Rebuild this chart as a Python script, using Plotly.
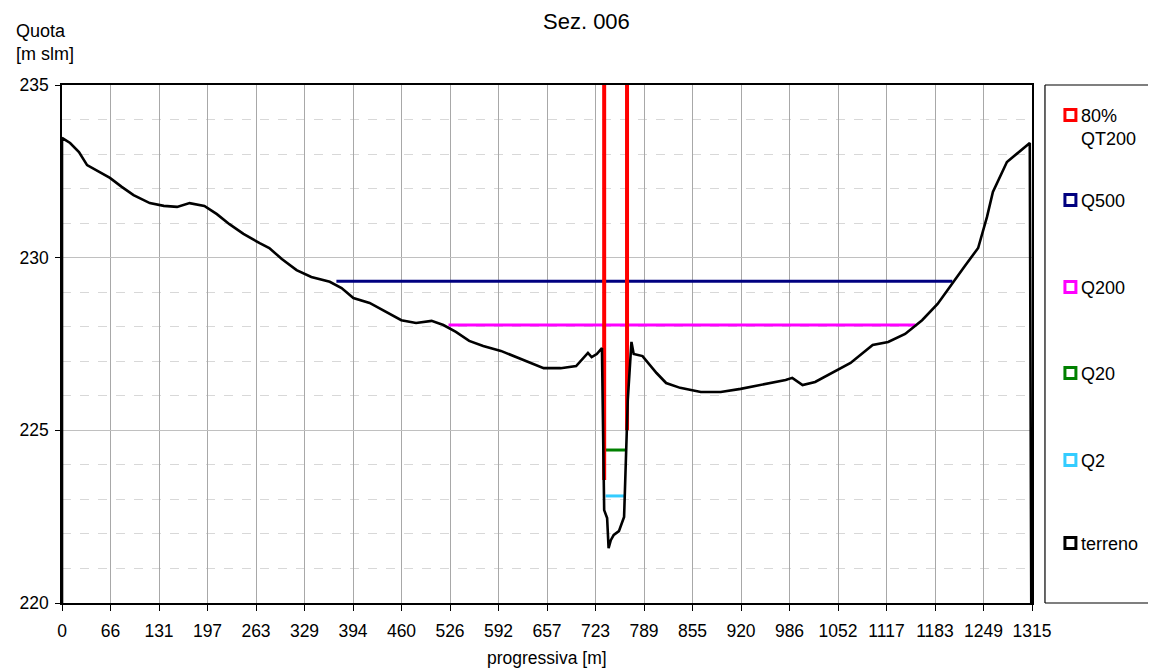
import plotly.graph_objects as go

# ---- data ----
terrain_x = [0, 0, 11, 23, 34, 50, 65, 81, 97, 119, 138, 156, 173, 193, 210, 227, 246, 268, 281, 298,
             318, 338, 363, 379, 395, 417, 440, 460, 480, 501, 517, 534, 552, 571, 595, 616, 636, 653,
             676, 697, 713, 718, 725, 732, 735, 739, 741, 744, 748, 755, 762, 767, 772, 775, 787, 795,
             806, 819, 838, 866, 893, 920, 947, 981, 990, 1004, 1021, 1042, 1069, 1099, 1120, 1143,
             1166, 1187, 1208, 1224, 1242, 1254, 1262, 1272, 1281, 1312, 1314]
terrain_y = [220.0, 233.47, 233.32, 233.06, 232.68, 232.48, 232.31, 232.05, 231.81, 231.58, 231.50,
             231.47, 231.58, 231.50, 231.26, 230.97, 230.69, 230.42, 230.28, 229.96, 229.64, 229.44,
             229.30, 229.12, 228.83, 228.69, 228.43, 228.19, 228.11, 228.17, 228.05, 227.85, 227.59,
             227.44, 227.30, 227.12, 226.95, 226.80, 226.80, 226.86, 227.24, 227.12, 227.21, 227.38,
             222.69, 222.46, 221.59, 221.82, 221.97, 222.08, 222.49, 225.88, 227.56, 227.21, 227.15,
             226.95, 226.66, 226.37, 226.23, 226.11, 226.11, 226.20, 226.31, 226.46, 226.52, 226.31,
             226.40, 226.63, 226.95, 227.47, 227.56, 227.79, 228.19, 228.66, 229.30, 229.76, 230.28,
             231.18, 231.90, 232.36, 232.77, 233.32, 220.0]

q500_x = [372, 1207]
q500_level = 229.32
q200_x = [524, 1157]
q200_level = 228.05
q20_x = [736, 764]
q20_level = 224.43
q2_x = [737, 763]
q2_level = 223.10
qt80_x = [735, 766]
qt80_top = 235.0
qt80_bottom = [223.56, 225.0]

tick_vals = [0, 65.75, 131.5, 197.25, 263, 328.75, 394.5, 460.25, 526, 591.75, 657.5, 723.25, 789,
             854.75, 920.5, 986.25, 1052, 1117.75, 1183.5, 1249.25, 1315]
tick_text = ["0", "66", "131", "197", "263", "329", "394", "460", "526", "592", "657", "723", "789",
             "855", "920", "986", "1052", "1117", "1183", "1249", "1315"]

legend_names = ["80%<br>QT200", "Q500", "Q200", "Q20", "Q2", "terreno"]
legend_colors = ["#FF0000", "#000080", "#FF00FF", "#008000", "#33CCFF", "#000000"]

# ---- figure ----
OFF = 8  # page body margin
W, H = 1156 - OFF, 671 - OFF
ML, MT = 60 - OFF, 85 - OFF
PW, PH = 972, 518
MR = W - ML - PW
MB = H - MT - PH


def px(x):
    return (x - OFF - ML) / PW


def py(y):
    return (MT + OFF + PH - y) / PH


FONT = "Liberation Sans, Arial, sans-serif"

fig = go.Figure()

fig.add_trace(go.Scatter(x=q500_x, y=[q500_level] * 2, mode="lines",
                         line=dict(color=legend_colors[1], width=3), name="Q500"))
fig.add_trace(go.Scatter(x=q200_x, y=[q200_level] * 2, mode="lines",
                         line=dict(color=legend_colors[2], width=3), name="Q200"))
fig.add_trace(go.Scatter(x=q20_x, y=[q20_level] * 2, mode="lines",
                         line=dict(color=legend_colors[3], width=3), name="Q20"))
fig.add_trace(go.Scatter(x=q2_x, y=[q2_level] * 2, mode="lines",
                         line=dict(color=legend_colors[4], width=3), name="Q2"))
for xv, yb in zip(qt80_x, qt80_bottom):
    fig.add_trace(go.Scatter(x=[xv, xv], y=[qt80_top, yb], mode="lines",
                             line=dict(color=legend_colors[0], width=4), name="80% QT200"))
fig.add_trace(go.Scatter(x=terrain_x, y=terrain_y, mode="lines",
                         line=dict(color="black", width=2.6), name="terreno"))

# ---- manual legend (box open to the right edge) ----
box_line = dict(color="black", width=1.2)
shapes = [
    dict(type="line", xref="paper", yref="paper", x0=px(1045), x1=px(1045), y0=py(603), y1=py(85), line=box_line),
    dict(type="line", xref="paper", yref="paper", x0=px(1045), x1=px(1200), y0=py(85), y1=py(85), line=box_line),
    dict(type="line", xref="paper", yref="paper", x0=px(1045), x1=px(1200), y0=py(603), y1=py(603), line=box_line),
]
annotations = []
legend_centers = [115, 200, 287, 373, 460, 543]
for name, col, cy in zip(legend_names, legend_colors, legend_centers):
    shapes.append(dict(type="rect", xref="paper", yref="paper",
                       x0=px(1065), x1=px(1076), y0=py(cy + 5.5), y1=py(cy - 5.5),
                       line=dict(color=col, width=3), fillcolor="white"))
    annotations.append(dict(text=name, xref="paper", yref="paper", x=px(1079),
                            y=py(cy - 11), xanchor="left", yanchor="top", showarrow=False,
                            align="left", font=dict(family=FONT, size=18, color="black")))

annotations.append(dict(text="Sez. 006", xref="paper", yref="paper", x=px(586), y=py(22),
                        xanchor="center", yanchor="middle", showarrow=False,
                        font=dict(family=FONT, size=22, color="black")))
annotations.append(dict(text="Quota<br>[m slm]", xref="paper", yref="paper", x=px(12), y=py(19),
                        xanchor="left", yanchor="top", showarrow=False, align="left",
                        font=dict(family=FONT, size=18, color="black")))
annotations.append(dict(text="progressiva [m]", xref="paper", yref="paper", x=px(546), y=py(658),
                        xanchor="center", yanchor="middle", showarrow=False,
                        font=dict(family=FONT, size=17.5, color="black")))

fig.update_layout(
    width=W, height=H,
    margin=dict(l=ML, r=MR, t=MT, b=MB),
    paper_bgcolor="white", plot_bgcolor="white",
    showlegend=False,
    shapes=shapes, annotations=annotations,
    font=dict(family=FONT, size=17.5, color="black"),
    xaxis=dict(range=[0, 1315], tickmode="array", tickvals=tick_vals, ticktext=tick_text,
               showgrid=True, gridcolor="#a8a8a8", gridwidth=1, zeroline=False,
               showline=True, linecolor="black", linewidth=1.5, mirror=True,
               ticks="outside", ticklen=6, tickcolor="black", tickfont=dict(size=17.5),
               ticklabelstandoff=5),
    yaxis=dict(range=[220, 235], tickmode="array", tickvals=[220, 225, 230, 235],
               showgrid=True, gridcolor="#c0c0c0", gridwidth=1, zeroline=False,
               showline=True, linecolor="black", linewidth=1.5, mirror=True,
               ticks="outside", ticklen=5, tickcolor="black", tickfont=dict(size=17.5),
               ticklabelstandoff=3,
               minor=dict(dtick=1, tick0=220, showgrid=True, griddash="dash",
                          gridcolor="#d8d8d8", gridwidth=1, ticks="")),
)

fig.write_html("out.html")
